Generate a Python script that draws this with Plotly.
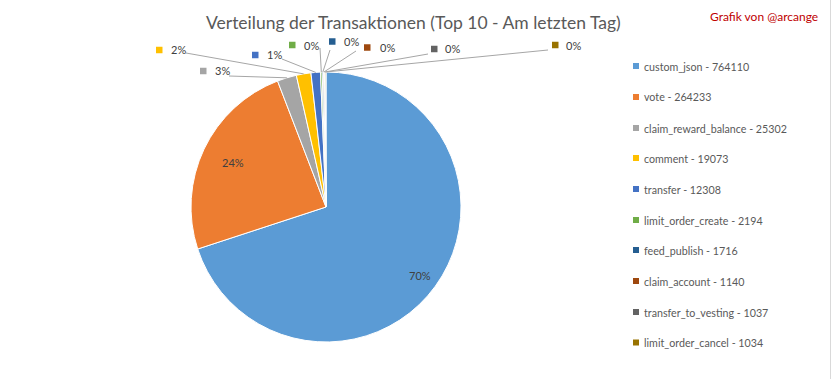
import math
import plotly.graph_objects as go

# ---------------- data ----------------
categories = ["custom_json", "vote", "claim_reward_balance", "comment", "transfer",
              "limit_order_create", "feed_publish", "claim_account",
              "transfer_to_vesting", "limit_order_cancel"]
values = [764110, 264233, 25302, 19073, 12308, 2194, 1716, 1140, 1037, 1034]
pct_labels = ["70%", "24%", "3%", "2%", "1%", "0%", "0%", "0%", "0%", "0%"]
title_text = "Verteilung der Transaktionen (Top 10 - Am letzten Tag)"
credit_text = "Grafik von @arcange"

# ---------------- style / layout ----------------
colors = ["#5B9BD5", "#ED7D31", "#A5A5A5", "#FFC000", "#4472C4",
          "#70AD47", "#255E91", "#9E480E", "#636363", "#997300"]
W, H = 832, 379
CX, CY, R = 326, 207, 135          # pie centre / radius in px
FONT = "Lato"
TXT = "#595959"
LBL = "#404040"

# inside labels: radial fraction (None -> outside label)
inside_r = [0.86, 0.76, None, None, None, None, None, None, None, None]
# outside labels: key square left x, centre y (px)
out_key = [None, None, (200, 71), (156, 50), (252, 55), (289, 45),
           (329, 41.5), (364, 47.5), (431, 49), (552, 45)]
out_txt_x = [None, None, 213, 169, 265, 302, 342, 378, 443, 564]
line_start = [None, None, (229, 76), (186, 53), (282, 59), (320, 48),
              (330, 50), (356, 51), (428, 54), (548, 50)]
legend_y = [66, 97, 128, 158, 189, 220, 250, 281, 312, 342.5]
LEG_KEY_X, LEG_TXT_X = 633, 642
KEY = 6.5


def px(x):
    return x / W


def py(y):
    return 1 - y / H


fig = go.Figure()
fig.add_trace(go.Pie(
    labels=categories, values=values, sort=False, direction="clockwise",
    rotation=0, marker=dict(colors=colors, line=dict(color="white", width=1)),
    textinfo="none", hoverinfo="label+value+percent", showlegend=False,
    domain=dict(x=[px(CX - R), px(CX + R)], y=[py(CY + R), py(CY - R)]),
))

total = sum(values)
shapes, annotations = [], []
cum = 0
for i, v in enumerate(values):
    mid = (cum + v / 2) / total
    cum += v
    ang = 2 * math.pi * mid
    sx, sy = math.sin(ang), -math.cos(ang)
    if inside_r[i] is not None:
        rr = inside_r[i] * R
        annotations.append(dict(
            x=px(CX + rr * sx), y=py(CY + rr * sy), xref="paper", yref="paper",
            xanchor="center", yanchor="middle",
            text=pct_labels[i], showarrow=False,
            font=dict(family=FONT, size=11, color=LBL)))
    else:
        kx, ky = out_key[i]
        shapes.append(dict(type="rect", xref="paper", yref="paper",
                           x0=px(kx), x1=px(kx + KEY), y0=py(ky + KEY / 2), y1=py(ky - KEY / 2),
                           fillcolor=colors[i], line=dict(width=0)))
        annotations.append(dict(
            x=px(out_txt_x[i]), y=py(ky), xref="paper", yref="paper",
            xanchor="left", yanchor="middle", text=pct_labels[i], showarrow=False,
            font=dict(family=FONT, size=11, color=LBL)))
        lx, ly = line_start[i]
        shapes.append(dict(type="line", xref="paper", yref="paper",
                           x0=px(lx), y0=py(ly), x1=px(CX + R * sx), y1=py(CY + R * sy),
                           line=dict(color="#A6A6A6", width=1)))

# legend
for i, c in enumerate(categories):
    y = legend_y[i]
    shapes.append(dict(type="rect", xref="paper", yref="paper",
                       x0=px(LEG_KEY_X), x1=px(LEG_KEY_X + KEY - 0.5),
                       y0=py(y + (KEY - 0.5) / 2), y1=py(y - (KEY - 0.5) / 2),
                       fillcolor=colors[i], line=dict(width=0)))
    annotations.append(dict(
        x=px(LEG_TXT_X), y=py(y), xref="paper", yref="paper",
        xanchor="left", yanchor="middle", text=f"{c} - {values[i]}", showarrow=False,
        font=dict(family=FONT, size=10.7, color=TXT)))

# title and credit
annotations.append(dict(x=px(413), y=py(22), xref="paper", yref="paper",
                        xanchor="center", yanchor="middle",
                        text=title_text, showarrow=False,
                        font=dict(family=FONT, size=17.5, color=TXT)))
annotations.append(dict(x=px(820), y=py(17), xref="paper", yref="paper",
                        xanchor="right", yanchor="middle", text=credit_text, showarrow=False,
                        font=dict(family=FONT, size=12, color="#C00000")))

# right border line
shapes.append(dict(type="line", xref="paper", yref="paper",
                   x0=px(830.5), x1=px(830.5), y0=0, y1=1,
                   line=dict(color="#D9D9D9", width=1)))

fig.update_layout(width=W, height=H, margin=dict(l=0, r=0, t=0, b=0),
                  paper_bgcolor="white", plot_bgcolor="white",
                  shapes=shapes, annotations=annotations, showlegend=False)
fig.write_html("out.html", config={"displayModeBar": False},
               post_script="document.body.style.margin='0';document.body.style.overflow='hidden';")
